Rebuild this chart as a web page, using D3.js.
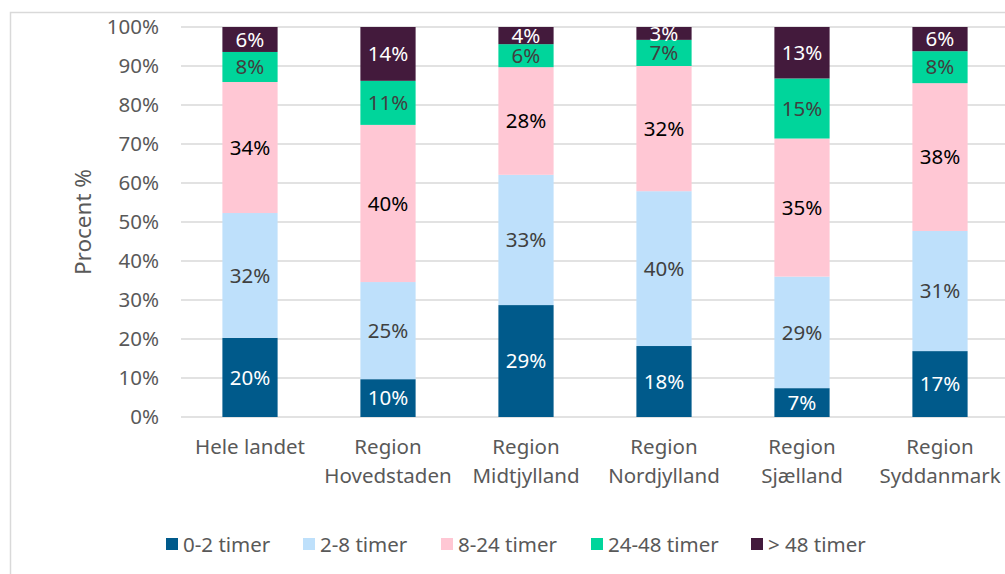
<!DOCTYPE html>
<html><head><meta charset="utf-8">
<script src="https://cdn.jsdelivr.net/npm/d3@7"></script>
<style>
html,body{margin:0;padding:0;background:#fff;}
svg{display:block;font-family:"Noto Sans",sans-serif;}
</style></head>
<body><svg id="c" width="1005" height="574"></svg>
<script>
const categories = ["Hele landet", "Region Hovedstaden", "Region Midtjylland", "Region Nordjylland", "Region Sjælland", "Region Syddanmark"];
const seriesNames = ["0-2 timer", "2-8 timer", "8-24 timer", "24-48 timer", "> 48 timer"];
const s0_2 = [20.3, 9.7, 28.7, 18.2, 7.4, 16.9];
const s2_8 = [32.0, 24.9, 33.4, 39.7, 28.6, 30.8];
const s8_24 = [33.6, 40.3, 27.6, 32.1, 35.4, 37.9];
const s24_48 = [7.7, 11.3, 5.9, 6.7, 15.4, 8.2];
const s48 = [6.4, 13.8, 4.4, 3.3, 13.2, 6.2];
const yTicks = [0, 10, 20, 30, 40, 50, 60, 70, 80, 90, 100];

const colors = ["#005a8b", "#bee0fb", "#ffc7d4", "#00d59b", "#431a3c"];
const labelColors = ["#ffffff", "#404040", "#000000", "#404040", "#ffffff"];
const seriesVals = [s0_2, s2_8, s8_24, s24_48, s48];
const FS = "20.5px";

const svg = d3.select("#c");
const plotL = 181, plotR = 1009, plotT = 27, plotB = 417;

// outer border
svg.append("rect").attr("x", 10.5).attr("y", 12.5).attr("width", 1010).attr("height", 600)
  .attr("fill", "none").attr("stroke", "#d9d9d9").attr("stroke-width", 1.5);

const x = d3.scaleBand().domain(categories).range([plotL, plotR]).paddingInner(0.6).paddingOuter(0.3);
const y = d3.scaleLinear().domain([0, 100]).range([plotB, plotT]);

// gridlines
svg.append("g").selectAll("line").data(yTicks).join("line")
  .attr("x1", plotL).attr("x2", plotR)
  .attr("y1", d => y(d)).attr("y2", d => y(d))
  .attr("stroke", "#d9d9d9").attr("stroke-width", 1.5);

// y axis labels
const yAxis = d3.axisLeft(y).tickValues(yTicks).tickFormat(d => d + "%").tickSize(0).tickPadding(0);
const yg = svg.append("g").attr("transform", `translate(${plotL - 22},0)`).call(yAxis);
yg.select(".domain").remove();
yg.selectAll("text").attr("fill", "#595959").style("font-size", FS).style("font-family", "'Noto Sans',sans-serif");

// y title
svg.append("text").attr("transform", `translate(91,${(plotT + plotB) / 2}) rotate(-90)`)
  .attr("text-anchor", "middle").attr("fill", "#595959").style("font-size", "22.5px").text("Procent %");

// stack
const table = categories.map((c, i) => {
  const o = { cat: c };
  seriesNames.forEach((s, k) => o[s] = seriesVals[k][i]);
  return o;
});
const stack = d3.stack().keys(seriesNames)(table);

const gBars = svg.append("g");
stack.forEach((layer, k) => {
  const g = gBars.append("g");
  g.selectAll("rect").data(layer).join("rect")
    .attr("x", d => x(d.data.cat))
    .attr("width", x.bandwidth())
    .attr("y", d => y(d[1]))
    .attr("height", d => y(d[0]) - y(d[1]))
    .attr("fill", colors[k]);
  g.selectAll("text").data(layer).join("text")
    .attr("x", d => x(d.data.cat) + x.bandwidth() / 2)
    .attr("y", d => (y(d[0]) + y(d[1])) / 2)
    .attr("dy", "0.35em")
    .attr("text-anchor", "middle")
    .attr("fill", labelColors[k])
    .style("font-size", FS)
    .text(d => Math.round(d[1] - d[0]) + "%");
});

// x category labels
const xg = svg.append("g");
categories.forEach(c => {
  const parts = c.split(" ");
  const lines = c === "Hele landet" ? [c] : parts;
  const t = xg.append("text").attr("x", x(c) + x.bandwidth() / 2).attr("y", 454)
    .attr("text-anchor", "middle").attr("fill", "#595959").style("font-size", FS);
  lines.forEach((ln, i) => t.append("tspan").attr("x", x(c) + x.bandwidth() / 2).attr("dy", i === 0 ? 0 : 29).text(ln));
});

// legend
const legendX = [166, 303, 441, 591, 751];
const lg = svg.append("g");
seriesNames.forEach((s, k) => {
  lg.append("rect").attr("x", legendX[k]).attr("y", 538).attr("width", 12).attr("height", 12).attr("fill", colors[k]);
  lg.append("text").attr("x", legendX[k] + 17).attr("y", 551.5).attr("fill", "#595959")
    .style("font-size", FS).text(s);
});
</script></body></html>
